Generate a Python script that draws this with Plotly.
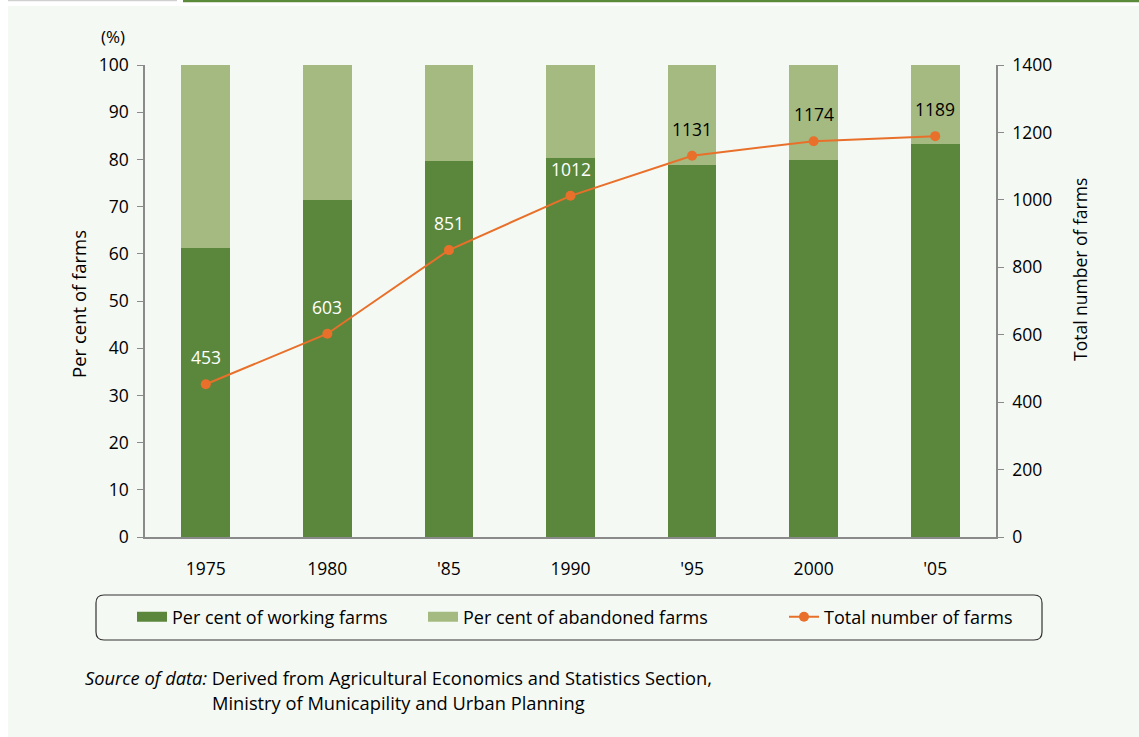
import plotly.graph_objects as go

years = ["1975", "1980", "'85", "1990", "'95", "2000", "'05"]
working = [61.2, 71.3, 79.6, 80.2, 78.8, 79.8, 83.2]
abandoned = [38.8, 28.7, 20.4, 19.8, 21.2, 20.2, 16.8]
total = [453, 603, 851, 1012, 1131, 1174, 1189]
label_colors = ["white", "white", "white", "white", "black", "black", "black"]

DARK = "#5b873c"
LIGHT = "#a4ba81"
ORANGE = "#e8702a"
BG = "#f5f9f3"
FONT = "Open Sans"
FS = 17.5

W, H = 1139, 737
L, R, T, B = 145, 996, 65, 537


def px(x):
    return (x - L) / (R - L)


def py(y):
    return (B - y) / (B - T)


fig = go.Figure()
fig.add_trace(go.Bar(x=years, y=working, marker=dict(color=DARK, line=dict(width=0)),
                     name="Per cent of working farms", showlegend=False))
fig.add_trace(go.Bar(x=years, y=abandoned, marker=dict(color=LIGHT, line=dict(width=0)),
                     name="Per cent of abandoned farms", showlegend=False))
fig.add_trace(go.Scatter(x=years, y=total, yaxis="y2", mode="lines+markers",
                         line=dict(color=ORANGE, width=2), marker=dict(color=ORANGE, size=10),
                         name="Total number of farms", legend="legend3"))
# legend swatches (wide rectangles like the reference)
fig.add_trace(go.Scatter(x=years[:1], y=[None], mode="lines", line=dict(color=DARK, width=10),
                         name="Per cent of working farms", legend="legend", hoverinfo="skip"))
fig.add_trace(go.Scatter(x=years[:1], y=[None], mode="lines", line=dict(color=LIGHT, width=10),
                         name="Per cent of abandoned farms", legend="legend2", hoverinfo="skip"))

annotations = []
for i, (v, c) in enumerate(zip(total, label_colors)):
    annotations.append(dict(x=i, y=v, xref="x", yref="y2", text=str(v), showarrow=False,
                            xanchor="center", yanchor="middle",
                            yshift=27, font=dict(family=FONT, size=FS, color=c)))


def note(x, y, text, size=FS, xanchor="center", angle=0):
    return dict(x=px(x), y=py(y), xref="paper", yref="paper", text=text, showarrow=False,
                xanchor=xanchor, yanchor="middle", textangle=angle,
                font=dict(family=FONT, size=size, color="black"))


annotations += [
    note(113, 36, "(%)", size=17),
    note(78, 304, "Per cent of farms", size=18.5, angle=-90),
    note(1080, 270, "Total number of farms", angle=-90),
    note(83, 677, "<i>Source of data:</i> Derived from Agricultural Economics and Statistics Section,",
         size=18.3, xanchor="left"),
    note(210, 702, "Ministry of Municapility and Urban Planning", size=18.3, xanchor="left"),
]

# rounded legend box
x0, x1, y0, y1 = px(96), px(1042), py(640), py(595)
rx, ry = 8 / (R - L), 8 / (B - T)
path = (f"M{x0+rx},{y1} L{x1-rx},{y1} Q{x1},{y1} {x1},{y1-ry} L{x1},{y0+ry} Q{x1},{y0} {x1-rx},{y0} "
        f"L{x0+rx},{y0} Q{x0},{y0} {x0},{y0+ry} L{x0},{y1-ry} Q{x0},{y1} {x0+rx},{y1} Z")

shapes = [
    dict(type="rect", xref="paper", yref="paper", x0=px(8), x1=px(1139), y0=py(737), y1=py(6),
         fillcolor=BG, line=dict(width=0), layer="below"),
    dict(type="line", xref="paper", yref="paper", x0=px(8), x1=px(177), y0=py(0.5), y1=py(0.5),
         line=dict(color="#d0d0d0", width=1.5)),
    dict(type="line", xref="paper", yref="paper", x0=px(183), x1=px(1139), y0=py(1), y1=py(1),
         line=dict(color="#5b8a3a", width=2.5)),
    dict(type="path", xref="paper", yref="paper", path=path, line=dict(color="#333333", width=1.2)),
]

leg_common = dict(orientation="h", yanchor="middle", xanchor="left", y=py(617),
                  bgcolor="rgba(0,0,0,0)", borderwidth=0,
                  font=dict(family=FONT, size=18, color="black"))

fig.update_layout(
    width=W, height=H,
    margin=dict(l=L, r=W - R, t=T, b=H - B, autoexpand=False),
    paper_bgcolor="white", plot_bgcolor="rgba(0,0,0,0)",
    barmode="stack", bargap=0.6,
    font=dict(family=FONT, size=FS, color="black"),
    xaxis=dict(type="category", categoryorder="array", categoryarray=years, range=[-0.5, 6.5],
               showline=True, linecolor="#8a8a8a", linewidth=1.5,
               ticks="outside", ticklen=15, tickcolor="rgba(0,0,0,0)", showgrid=False,
               tickfont=dict(family=FONT, size=FS)),
    yaxis=dict(range=[0, 100], tickvals=list(range(0, 101, 10)), showline=True, linecolor="#8a8a8a",
               linewidth=1.5, ticks="outside", ticklen=6, tickcolor="#8a8a8a", showgrid=False,
               zeroline=False, ticklabelstandoff=5, tickfont=dict(family=FONT, size=FS)),
    yaxis2=dict(range=[0, 1400], tickvals=list(range(0, 1401, 200)), overlaying="y", side="right",
                showline=True, linecolor="#8a8a8a", linewidth=1.5, ticks="outside", ticklen=6,
                tickcolor="#8a8a8a", showgrid=False, zeroline=False, ticklabelstandoff=5,
                tickfont=dict(family=FONT, size=FS)),
    legend=dict(x=px(132), **leg_common),
    legend2=dict(x=px(423), **leg_common),
    legend3=dict(x=px(784), **leg_common),
    annotations=annotations,
    shapes=shapes,
)

fig.write_html("out.html", config={"displayModeBar": False},
               post_script="document.body.style.margin='0';document.body.style.overflow='hidden';")
